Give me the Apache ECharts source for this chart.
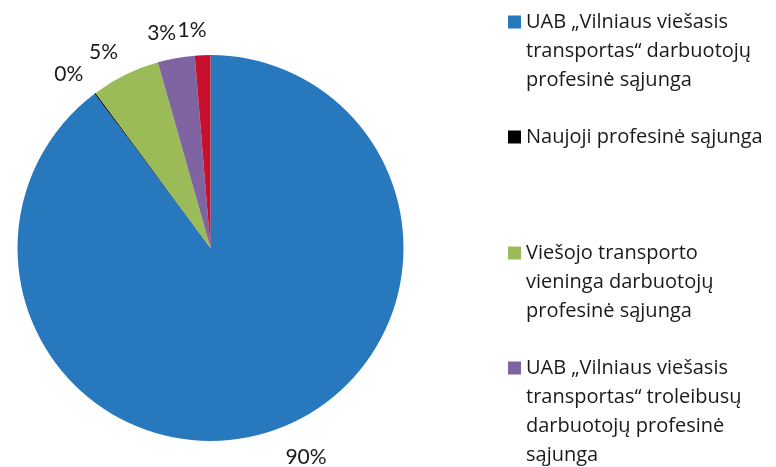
<!DOCTYPE html>
<html>
<head>
<meta charset="utf-8">
<script src="https://cdn.jsdelivr.net/npm/echarts@6/dist/echarts.min.js"></script>
<style>
  html, body { margin: 0; padding: 0; background: #fff; }
  #chart { width: 776px; height: 467px; }
</style>
</head>
<body>
<div id="chart"></div>
<script>
// data (clockwise from 12 o'clock)
const names = [
  'UAB „Vilniaus viešasis transportas“ darbuotojų profesinė sąjunga',
  'Naujoji profesinė sąjunga',
  'Viešojo transporto vieninga darbuotojų profesinė sąjunga',
  'UAB „Vilniaus viešasis transportas“ troleibusų darbuotojų profesinė sąjunga',
  'Kita'
];
const values = [89.75, 0.1, 5.75, 3.1, 1.3];
const labels = ['90%', '0%', '5%', '3%', '1%'];
const colors = ['#2878be', '#000000', '#9bbb59', '#8064a2', '#c8102e'];

// legend text as wrapped in the picture
const legendLines = [
  ['UAB „Vilniaus viešasis', 'transportas“ darbuotojų', 'profesinė sąjunga'],
  ['Naujoji profesinė sąjunga'],
  ['Viešojo transporto', 'vieninga darbuotojų', 'profesinė sąjunga'],
  ['UAB „Vilniaus viešasis', 'transportas“ troleibusų', 'darbuotojų profesinė', 'sąjunga']
];

const lineH = 29;
const sq = 13;
const iconY = [22, 137, 253, 368];

// square on the first line: icon box is as tall as the text below it
const legends = legendLines.map((lines, i) => {
  const h = sq + (lines.length - 1) * lineH;
  return {
    orient: 'vertical',
    left: 508,
    top: iconY[i] - lineH / 2,
    padding: 0,
    itemWidth: sq,
    itemHeight: h,
    icon: `path://M0,0L${sq},0L${sq},${sq}L0,${sq}ZM0,${h}L0.01,${h}Z`,
    selectedMode: false,
    data: [names[i]],
    formatter: () => lines.join('\n'),
    textStyle: {
      fontFamily: 'Open Sans',
      fontSize: 20,
      color: '#1a1a1a',
      lineHeight: lineH
    }
  };
});

const chart = echarts.init(document.getElementById('chart'), null, { renderer: 'canvas' });
chart.setOption({
  animation: false,
  color: colors,
  legend: legends,
  series: [{
    type: 'pie',
    center: [210.5, 248],
    radius: 193,
    startAngle: 90,
    clockwise: true,
    avoidLabelOverlap: false,
    data: names.map((n, i) => ({ name: n, value: values[i] })),
    itemStyle: { borderWidth: 0 },
    emphasis: { disabled: true },
    label: {
      show: true,
      position: 'outside',
      formatter: p => labels[p.dataIndex],
      fontFamily: 'Lato',
      fontSize: 21,
      color: '#1a1a1a'
    },
    labelLine: { show: false, length: 28, length2: 0 },
    labelLayout: p => (p.labelRect.x < 210 ? { dx: 10, dy: 3 } : {})
  }]
});
</script>
</body>
</html>
